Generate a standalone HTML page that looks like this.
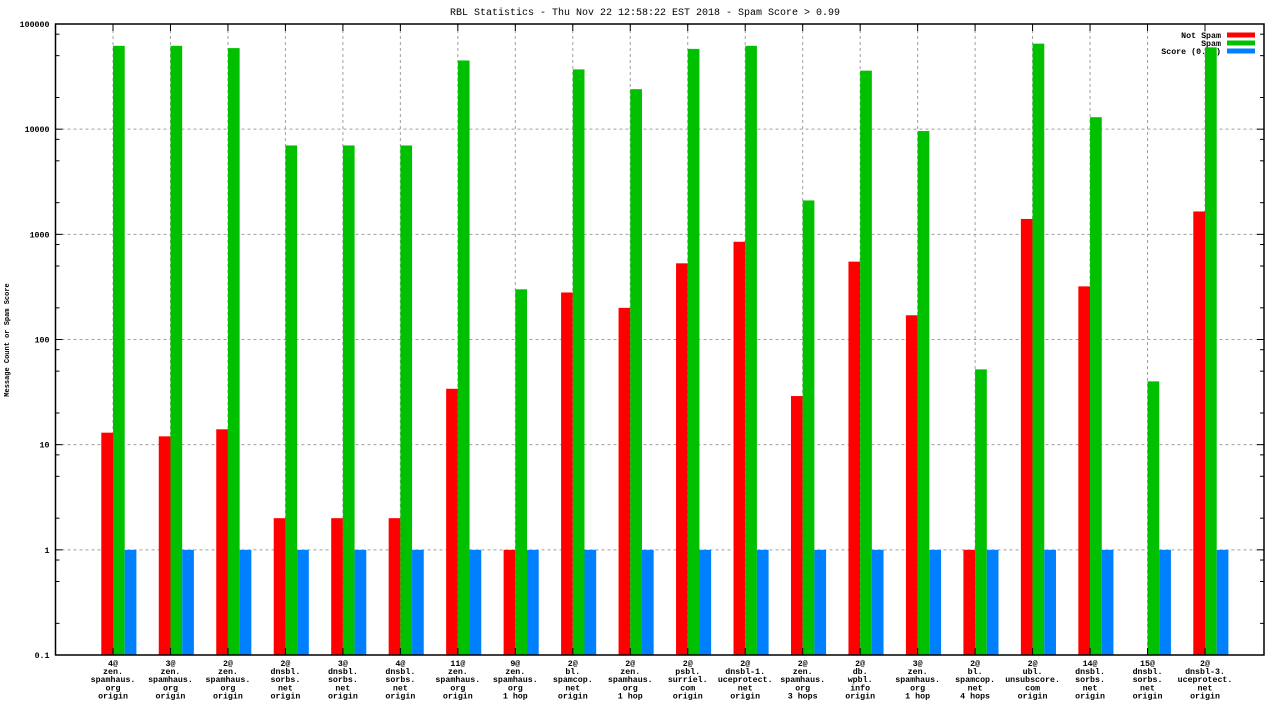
<!DOCTYPE html>
<html><head><meta charset="utf-8"><style>
html,body{margin:0;padding:0;background:#fff;}
svg text{font-family:"Liberation Mono",monospace;font-size:8.3px;fill:#000;font-weight:bold;}
</style></head><body>
<svg id="chart" width="1280" height="720" xmlns="http://www.w3.org/2000/svg">
<text x="645" y="15" text-anchor="middle" style="font-size:10px;font-weight:normal">RBL Statistics - Thu Nov 22 12:58:22 EST 2018 - Spam Score &gt; 0.99</text>
<text transform="translate(9,340) rotate(-90)" text-anchor="middle" style="font-size:7px">Message Count or Spam Score</text>
<g id="grid"></g><g id="legend"></g><g id="bars"></g><g id="axes"></g>
</svg>
<script>
const categories = [
 ["4@","zen.","spamhaus.","org","origin"],["3@","zen.","spamhaus.","org","origin"],["2@","zen.","spamhaus.","org","origin"],
 ["2@","dnsbl.","sorbs.","net","origin"],["3@","dnsbl.","sorbs.","net","origin"],["4@","dnsbl.","sorbs.","net","origin"],
 ["11@","zen.","spamhaus.","org","origin"],["9@","zen.","spamhaus.","org","1 hop"],["2@","bl.","spamcop.","net","origin"],
 ["2@","zen.","spamhaus.","org","1 hop"],["2@","psbl.","surriel.","com","origin"],["2@","dnsbl-1.","uceprotect.","net","origin"],
 ["2@","zen.","spamhaus.","org","3 hops"],["2@","db.","wpbl.","info","origin"],["3@","zen.","spamhaus.","org","1 hop"],
 ["2@","bl.","spamcop.","net","4 hops"],["2@","ubl.","unsubscore.","com","origin"],["14@","dnsbl.","sorbs.","net","origin"],
 ["15@","dnsbl.","sorbs.","net","origin"],["2@","dnsbl-3.","uceprotect.","net","origin"]
];
const notSpam = [13,12,14,2,2,2,34,1,280,200,530,850,29,550,170,1,1400,320,0,1650];
const spam = [62000,62000,59000,7000,7000,7000,45000,300,37000,24000,58000,62000,2100,36000,9600,52,65000,13000,40,60000];
const score = [1,1,1,1,1,1,1,1,1,1,1,1,1,1,1,1,1,1,1,1];
const yTickValues = [0.1,1,10,100,1000,10000,100000];
const yTickLabels = ["0.1","1","10","100","1000","10000","100000"];
const seriesNames = ["Not Spam","Spam","Score (0..1)"];
const seriesColors = ["#ff0000","#00c000","#0080ff"];

const NS="http://www.w3.org/2000/svg";
const L=55.5,R=1264,T=24,B=655;
const yMin=-1,yMax=5;
function y(v){return B-(Math.log10(v)-yMin)/(yMax-yMin)*(B-T);}
function xc(i){return 113+i*(1205-113)/(categories.length-1);}
const bw=11.7;
function mk(tag,attrs,parent){const e=document.createElementNS(NS,tag);for(const k in attrs)e.setAttribute(k,attrs[k]);parent.appendChild(e);return e;}
const grid=document.getElementById('grid'),bars=document.getElementById('bars'),axes=document.getElementById('axes'),legend=document.getElementById('legend');

yTickValues.forEach((v,k)=>{
  const yy=y(v);
  if(k>0&&k<yTickValues.length-1){const g=mk('line',{x1:L,x2:R,y1:yy,y2:yy,stroke:'#a0a0a0','stroke-dasharray':'3,3'},grid);
  
  }
  const t=mk('text',{x:L-6,y:yy+3,'text-anchor':'end'},axes);t.textContent=yTickLabels[k];
  
  
  mk('line',{x1:L,x2:L+7,y1:yy,y2:yy,stroke:'#000'},axes);
  mk('line',{x1:R,x2:R-7,y1:yy,y2:yy,stroke:'#000'},axes);
  if(k<yTickValues.length-1){[2,5,8].forEach(m=>{const my=y(v*m);
    mk('line',{x1:L,x2:L+4,y1:my,y2:my,stroke:'#000'},axes);mk('line',{x1:R,x2:R-4,y1:my,y2:my,stroke:'#000'},axes);});}
});
categories.forEach((c,i)=>{
  const x=xc(i);
  const g=mk('line',{x1:x,x2:x,y1:T,y2:B,stroke:'#a0a0a0','stroke-dasharray':'3,3'},grid);
  
  
  mk('line',{x1:x,x2:x,y1:B,y2:B-7,stroke:'#000'},axes);
  mk('line',{x1:x,x2:x,y1:T,y2:T+7,stroke:'#000'},axes);
  c.forEach((s,j)=>{const t=mk('text',{x:x,y:B+11+j*8.1,'text-anchor':'middle'},axes);t.textContent=s;
    
    });
});
seriesNames.forEach((n,k)=>{
  const yy=35+k*8;
  const t=mk('text',{x:1221,y:yy+3,'text-anchor':'end'},legend);t.textContent=n;
  
  
  const r=mk('rect',{x:1227,y:yy-2.5,width:28,height:5,fill:seriesColors[k]},legend);
  
  
});
[notSpam,spam,score].forEach((arr,k)=>{
  arr.forEach((v,i)=>{
    if(!(v>0))return;
    const x=xc(i)+(k-1)*bw, top=y(v);
    const r=mk('rect',{x:x,y:top,width:bw,height:B-top,fill:seriesColors[k]},bars);
    
    
  });
});
const fr=mk('rect',{x:L,y:T,width:R-L,height:B-T,fill:'none',stroke:'#000','stroke-width':1.5},axes);


</script>
</body></html>
